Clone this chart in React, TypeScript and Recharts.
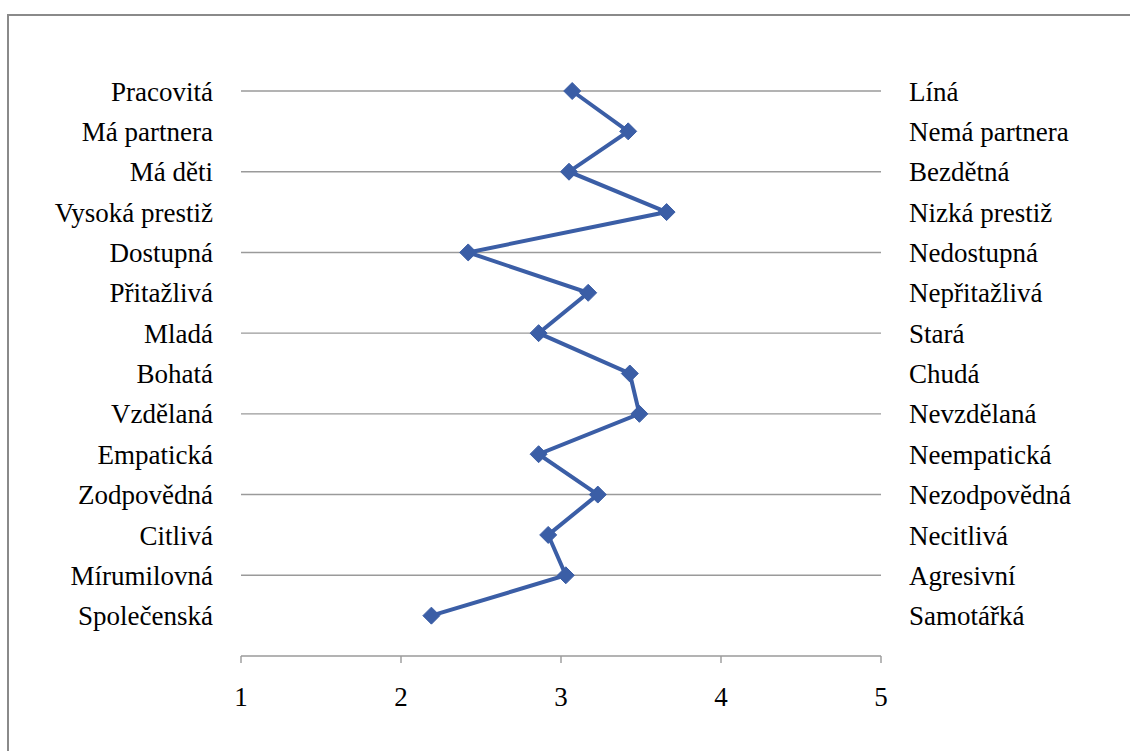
import React from "react";
import {
    ScatterChart,
    Scatter,
    XAxis,
    YAxis,
    CartesianGrid,
} from "recharts";

// positive pole (left), top to bottom
const leftLabels = [
    "Pracovitá",
    "Má partnera",
    "Má děti",
    "Vysoká prestiž",
    "Dostupná",
    "Přitažlivá",
    "Mladá",
    "Bohatá",
    "Vzdělaná",
    "Empatická",
    "Zodpovědná",
    "Citlivá",
    "Mírumilovná",
    "Společenská",
];

// negative pole (right), top to bottom
const rightLabels = [
    "Líná",
    "Nemá partnera",
    "Bezdětná",
    "Nizká prestiž",
    "Nedostupná",
    "Nepřitažlivá",
    "Stará",
    "Chudá",
    "Nevzdělaná",
    "Neempatická",
    "Nezodpovědná",
    "Necitlivá",
    "Agresivní",
    "Samotářká",
];

const values = [3.07, 3.42, 3.05, 3.66, 2.42, 3.17, 2.86, 3.43, 3.49, 2.86, 3.23, 2.92, 3.03, 2.19];

const xTicks = [1, 2, 3, 4, 5];

const COLOR = "#3B5EA6";
const GRID = "#9a9a9a";
const FONT = '"Liberation Serif", "Times New Roman", serif';

const n = leftLabels.length;
const rows = values.map((v, i) => ({ pos: n - i, value: v }));
const posTicks = leftLabels.map((_, i) => i + 1);
const gridValues = posTicks.filter((p) => p % 2 === 0);

const tickStyle = { fontFamily: FONT, fontSize: 27, fill: "#000" };

function Diamond(props: any) {
    const { cx, cy } = props;
    const r = 8.5;
    return (
        <polygon
            points={`${cx},${cy - r} ${cx + r},${cy} ${cx},${cy + r} ${cx - r},${cy}`}
            fill={COLOR}
            stroke={COLOR}
            strokeWidth={1}
            strokeLinejoin="round"
        />
    );
}

// used only so the right axis gets its domain
const Nothing = () => <g />;

export default function App() {
    return (
        <div
            style={{
                position: "absolute",
                left: 0,
                top: 0,
                width: 1130,
                height: 751,
                overflow: "hidden",
                background: "#fff",
            }}
        >
            {/* chart frame (cut off at right and bottom) */}
            <div
                style={{
                    position: "absolute",
                    left: 7,
                    top: 14,
                    width: 1200,
                    height: 800,
                    border: "2px solid #8a8a8a",
                    boxSizing: "border-box",
                }}
            />
            <div style={{ position: "absolute", left: 0, top: 0 }}>
                <ScatterChart
                    width={1130}
                    height={751}
                    margin={{ top: 91, right: 0, bottom: 0, left: 0 }}
                >
                    <CartesianGrid
                        yAxisId="left"
                        vertical={false}
                        horizontalValues={gridValues}
                        stroke={GRID}
                        strokeWidth={1.4}
                    />
                    <XAxis
                        type="number"
                        dataKey="value"
                        domain={[1, 5]}
                        ticks={xTicks}
                        interval={0}
                        height={95}
                        tickSize={7}
                        tickMargin={24}
                        axisLine={{ stroke: GRID, strokeWidth: 1.4 }}
                        tickLine={{ stroke: GRID, strokeWidth: 1.4 }}
                        tick={tickStyle}
                    />
                    <YAxis
                        yAxisId="left"
                        type="number"
                        dataKey="pos"
                        domain={[0, n]}
                        ticks={posTicks}
                        interval={0}
                        width={241}
                        tickSize={0}
                        tickMargin={28}
                        axisLine={false}
                        tickLine={false}
                        tick={tickStyle}
                        tickFormatter={(v: number) => leftLabels[n - v] ?? ""}
                    />
                    <YAxis
                        yAxisId="right"
                        orientation="right"
                        type="number"
                        dataKey="pos"
                        domain={[0, n]}
                        ticks={posTicks}
                        interval={0}
                        width={249}
                        tickSize={0}
                        tickMargin={28}
                        axisLine={false}
                        tickLine={false}
                        tick={{ ...tickStyle, textAnchor: "start" }}
                        tickFormatter={(v: number) => rightLabels[n - v] ?? ""}
                    />
                    <Scatter
                        yAxisId="right"
                        data={rows}
                        shape={Nothing}
                        isAnimationActive={false}
                    />
                    <Scatter
                        yAxisId="left"
                        data={rows}
                        line={{ stroke: COLOR, strokeWidth: 4 }}
                        lineType="joint"
                        shape={Diamond}
                        isAnimationActive={false}
                    />
                </ScatterChart>
            </div>
        </div>
    );
}
